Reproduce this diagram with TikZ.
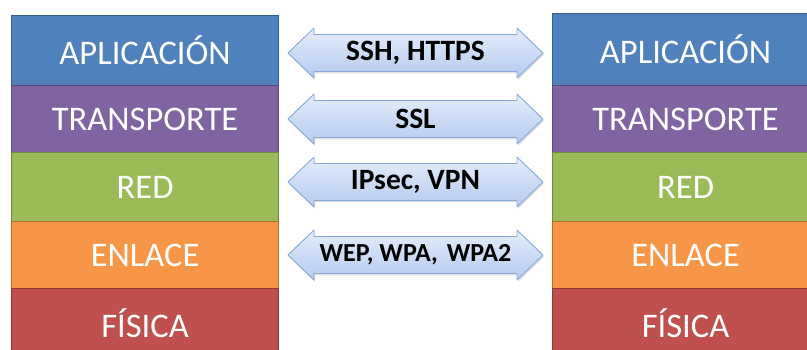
\documentclass[tikz,border=0pt]{standalone}
\usepackage{fontspec}
\setmainfont{Carlito}
\begin{document}
\begin{tikzpicture}[x=1pt,y=-1pt]
\definecolor{cblue}{HTML}{4F81BD}\definecolor{dblue}{HTML}{385D8A}
\definecolor{cpurp}{HTML}{8064A2}\definecolor{dpurp}{HTML}{5C4776}
\definecolor{cgreen}{HTML}{9BBB59}\definecolor{dgreen}{HTML}{71893F}
\definecolor{corange}{HTML}{F79646}\definecolor{dorange}{HTML}{B66D31}
\definecolor{cred}{HTML}{C0504D}\definecolor{dred}{HTML}{8C3836}
\definecolor{arrtop}{HTML}{E4EDFB}\definecolor{arrbot}{HTML}{B5CAEE}
\definecolor{arrline}{HTML}{88A8DA}
\tikzset{
  layer/.style={draw=#1, line width=1.2pt, anchor=north west, inner sep=0pt,
    font=\fontsize{34.5}{34.5}\selectfont, text=white},
  arrlabel/.style={font=\fontsize{29.5}{29.5}\selectfont\bfseries, text=black, inner sep=0pt},
}
\useasboundingbox (0,0) rectangle (807,350);
\clip (0,0) rectangle (807,350);
% left stack
\node[layer=dblue, fill=cblue, minimum width=267pt, minimum height=70pt] (la) at (11,15) {APLICACIÓN};
\node[layer=dpurp, fill=cpurp, minimum width=267pt, minimum height=67pt] (lt) at (11,85) {TRANSPORTE};
\node[layer=dgreen, fill=cgreen, minimum width=267pt, minimum height=69pt] (lr) at (11,152) {RED};
\node[layer=dorange, fill=corange, minimum width=267pt, minimum height=67pt] (le) at (11,221) {ENLACE};
\node[layer=dred, fill=cred, minimum width=267pt, minimum height=70pt] (lf) at (11,288) {FÍSICA};
% right stack
\node[layer=dblue, fill=cblue, minimum width=266pt, minimum height=72pt] (ra) at (552,13) {APLICACIÓN};
\node[layer=dpurp, fill=cpurp, minimum width=266pt, minimum height=67pt] (rt) at (552,85) {TRANSPORTE};
\node[layer=dgreen, fill=cgreen, minimum width=266pt, minimum height=69pt] (rr) at (552,152) {RED};
\node[layer=dorange, fill=corange, minimum width=266pt, minimum height=67pt] (re) at (552,221) {ENLACE};
\node[layer=dred, fill=cred, minimum width=266pt, minimum height=70pt] (rf) at (552,288) {FÍSICA};
% arrows
\foreach \c/\n/\t in {53/a1/{SSH, HTTPS}, 119/a2/{SSL}, 182/a3/{IPsec, VPN}, 255/a4/{\fontsize{26}{26}\selectfont WEP, WPA,\hspace{3pt} WPA2}}{
  \fill[black, opacity=0.12] (289,\c+2) -- (315,\c-23) -- (315,\c-16.5) -- (518,\c-16.5) -- (518,\c-23) -- (544,\c+2) -- (518,\c+27) -- (518,\c+20.5) -- (315,\c+20.5) -- (315,\c+27) -- cycle;
  \draw[arrline, line width=0.9pt, top color=arrtop, bottom color=arrbot, line join=round]
    (288,\c) -- (314,\c-25) -- (314,\c-18.5) -- (517,\c-18.5) -- (517,\c-25) -- (543,\c)
    -- (517,\c+25) -- (517,\c+18.5) -- (314,\c+18.5) -- (314,\c+25) -- cycle;
  \node[arrlabel] (\n) at (415.5,\c) {\t};
}
\end{tikzpicture}
\end{document}
